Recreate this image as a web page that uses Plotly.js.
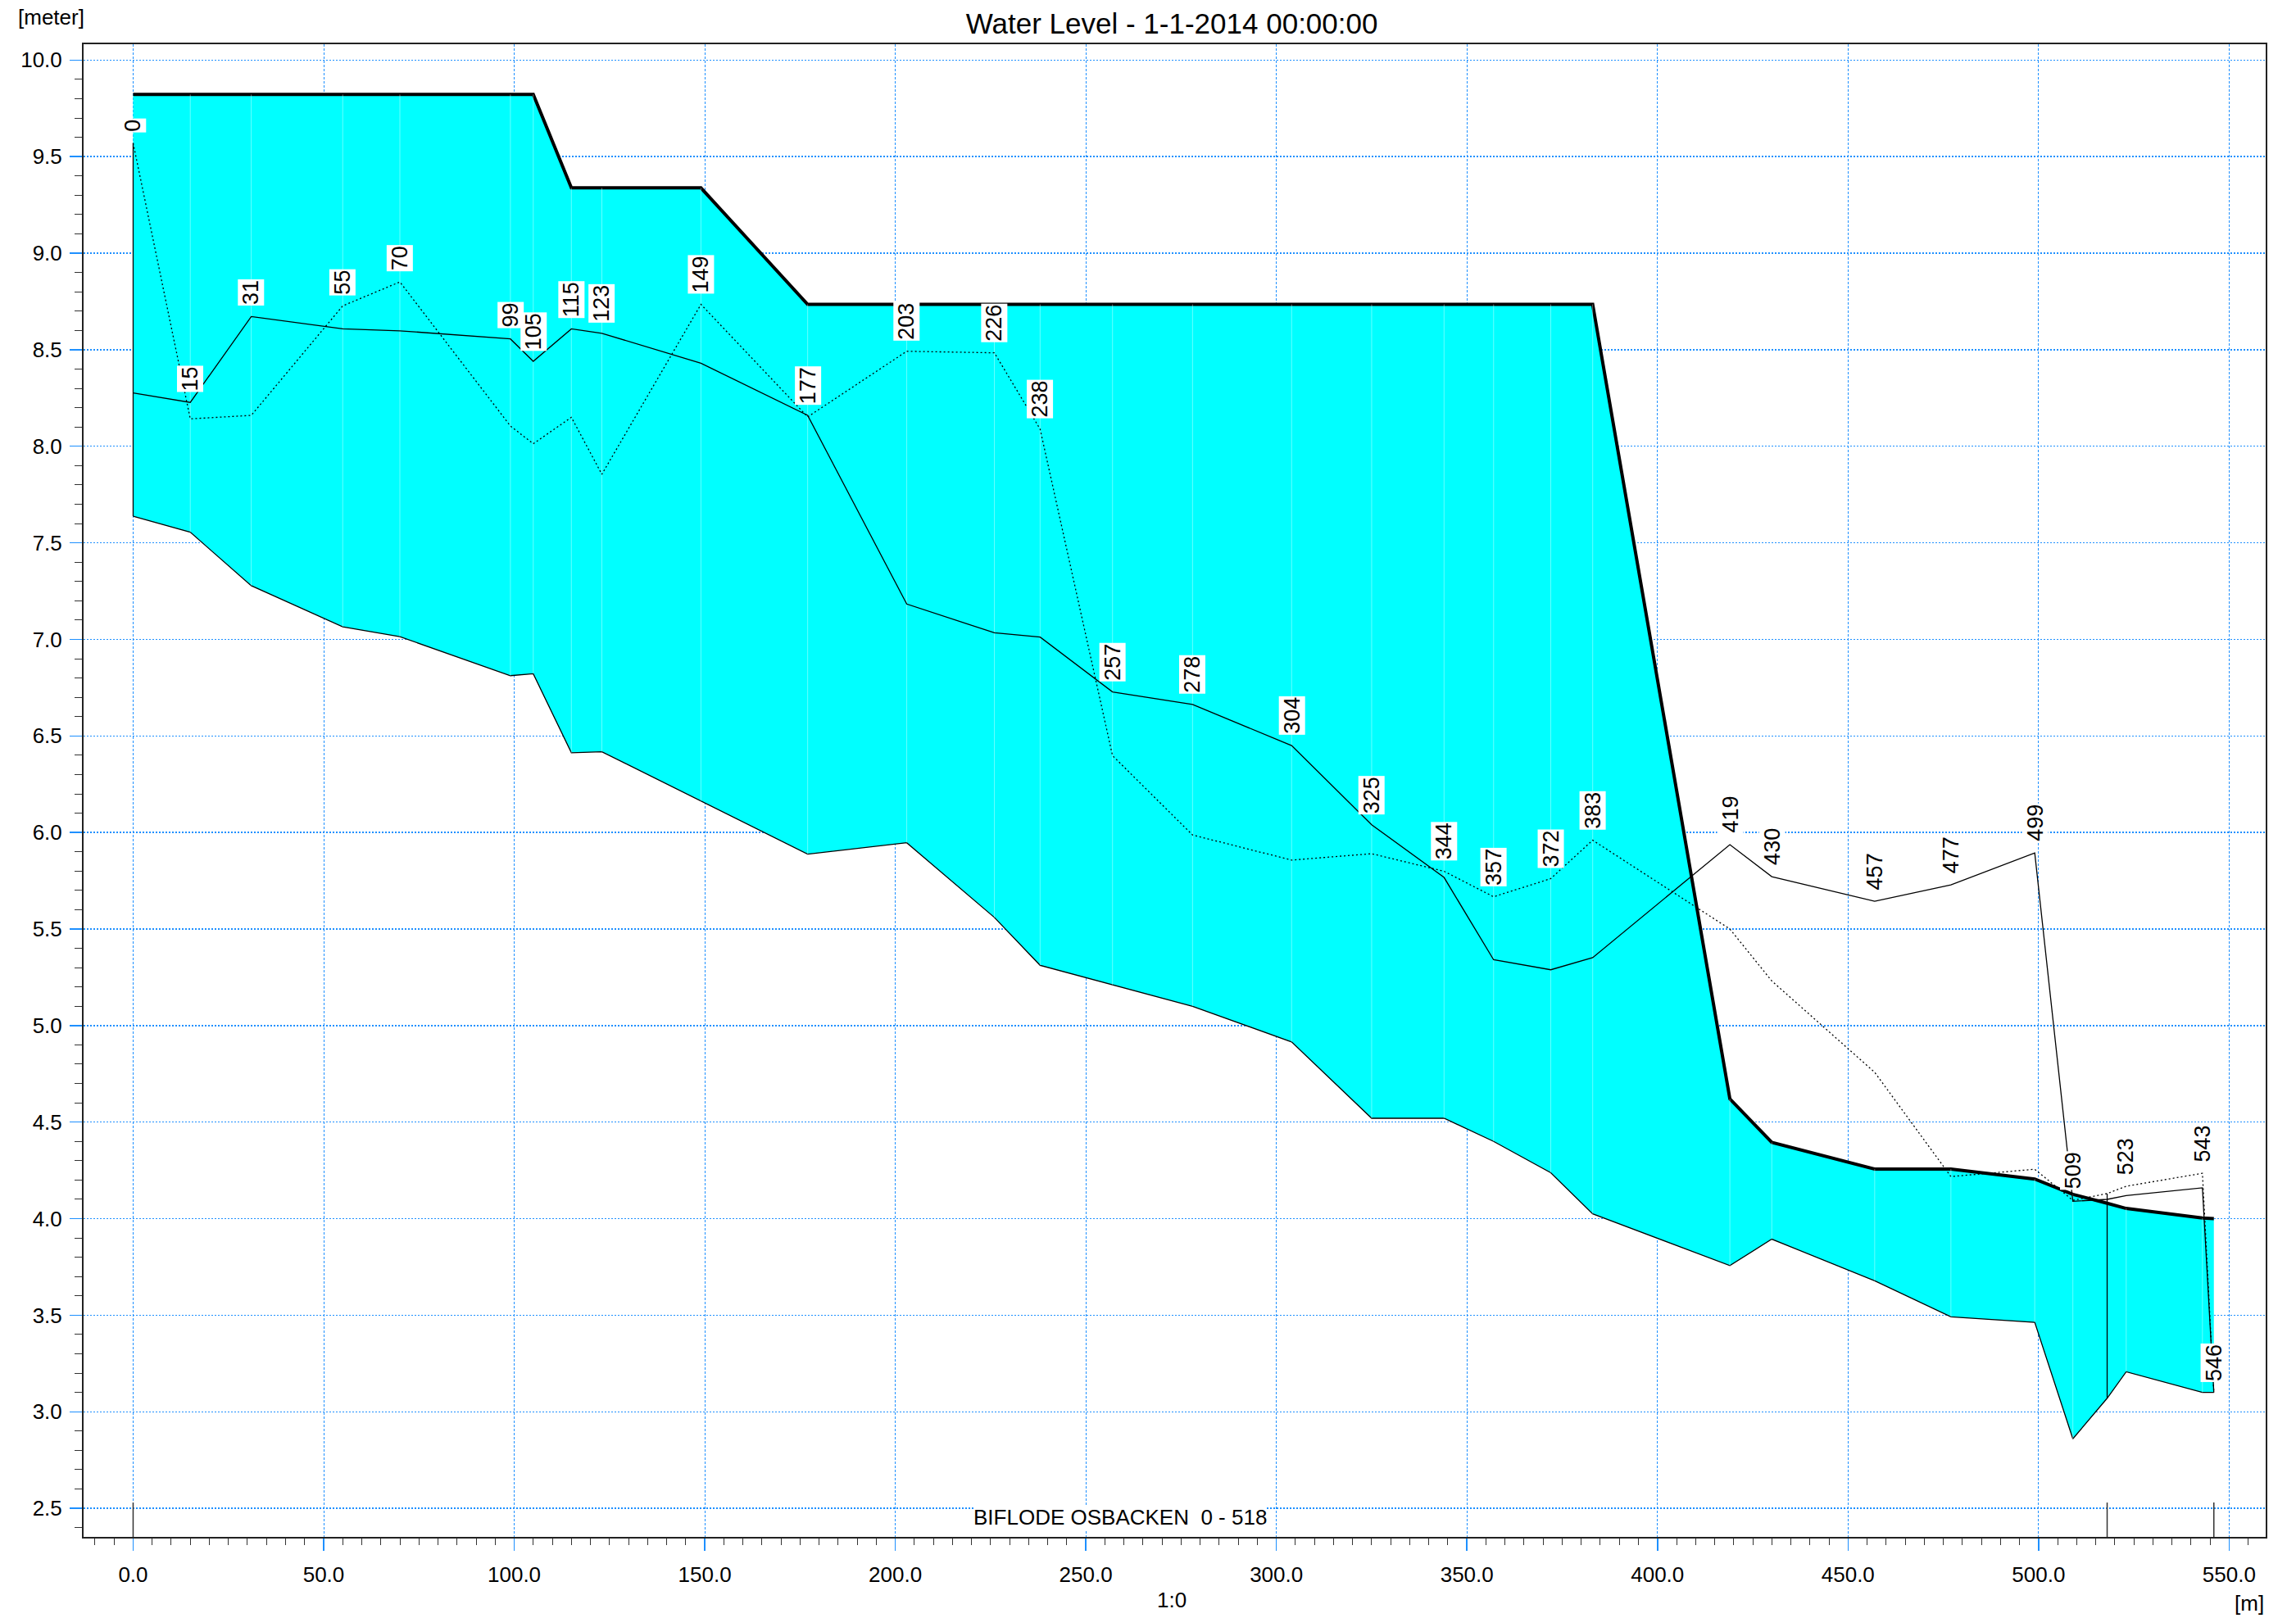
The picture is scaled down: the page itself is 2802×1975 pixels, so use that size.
<!DOCTYPE html>
<html><head><meta charset="utf-8">
<script src="https://cdn.plot.ly/plotly-3.0.1.min.js"></script>
<style>html,body{margin:0;padding:0;background:#fff;} #chart{width:2802px;height:1975px;}</style>
</head><body><div id="chart"></div>
<script>
// ---- data ----
const chainage = [0,15,31,55,70,99,105,115,123,149,177,203,226,238,257,278,304,325,344,357,372,383,419,430,457,477,499,509,518,523,543,546];
const chainageLabels = ['0','15','31','55','70','99','105','115','123','149','177','203','226','238','257','278','304','325','344','357','372','383','419','430','457','477','499','509','','523','543','546'];
const waterLevel = [9.822,9.822,9.822,9.822,9.822,9.822,9.822,9.338,9.338,9.338,8.735,8.735,8.735,8.735,8.735,8.735,8.735,8.735,8.735,8.735,8.735,8.735,4.62,4.395,4.257,4.257,4.205,4.126,4.08,4.053,4.003,4.0];
const bedLevel = [7.638,7.555,7.278,7.065,7.014,6.812,6.822,6.413,6.418,6.163,5.888,5.947,5.56,5.312,5.21,5.10,4.915,4.52,4.52,4.40,4.238,4.025,3.757,3.894,3.678,3.492,3.463,2.86,3.07,3.207,3.10,3.10];
const leftBank = [8.276,8.227,8.672,8.608,8.598,8.556,8.44,8.608,8.585,8.43,8.16,7.183,7.034,7.012,6.728,6.663,6.45,6.04,5.767,5.341,5.289,5.352,5.937,5.771,5.644,5.729,5.894,4.09,4.10,4.12,4.16,3.10];
const rightBank = [9.57,8.142,8.16,8.727,8.851,8.105,8.013,8.15,7.855,8.735,8.152,8.492,8.484,8.089,6.398,5.987,5.857,5.89,5.799,5.667,5.761,5.96,5.50,5.231,4.758,4.218,4.256,4.095,4.13,4.168,4.235,3.10];
const branchEnds = [0,518,546];
const branchName = 'BIFLODE OSBACKEN\u00A0 0 - 518';
const xTickVals = [0,50,100,150,200,250,300,350,400,450,500,550];
const xTickText = ['0.0','50.0','100.0','150.0','200.0','250.0','300.0','350.0','400.0','450.0','500.0','550.0'];
const yTickVals = [2.5,3.0,3.5,4.0,4.5,5.0,5.5,6.0,6.5,7.0,7.5,8.0,8.5,9.0,9.5,10.0];
const yTickText = ['2.5','3.0','3.5','4.0','4.5','5.0','5.5','6.0','6.5','7.0','7.5','8.0','8.5','9.0','9.5','10.0'];
const chartTitle = 'Water Level - 1-1-2014 00:00:00';

// ---- traces ----
const FONT = 'Liberation Sans, Arial, Helvetica, sans-serif';
const n = chainage.length;

const seamX = [], seamY = [];
for (let i = 1; i < n - 1; i++) { seamX.push(chainage[i], chainage[i], null); seamY.push(bedLevel[i], waterLevel[i], null); }

const endX = [], endY = [];
branchEnds.forEach(e => {
  const i = chainage.indexOf(e);
  endX.push(e, e, null);
  endY.push(bedLevel[i], Math.max(leftBank[i], rightBank[i]), null);
});

const traces = [
  {x: chainage, y: bedLevel, mode: 'lines', line: {color: '#000', width: 1.3}, hoverinfo: 'skip', showlegend: false},
  {x: chainage, y: waterLevel, mode: 'lines', fill: 'tonexty', fillcolor: '#00FFFF', line: {color: '#000', width: 4}, hoverinfo: 'skip', showlegend: false},
  {x: seamX, y: seamY, mode: 'lines', line: {color: 'rgba(255,255,255,0.4)', width: 1}, hoverinfo: 'skip', showlegend: false},
  {x: endX, y: endY, mode: 'lines', line: {color: '#000', width: 1.3}, hoverinfo: 'skip', showlegend: false},
  {x: chainage, y: leftBank, mode: 'lines', line: {color: '#000', width: 1.3}, hoverinfo: 'skip', showlegend: false},
  {x: chainage, y: rightBank, mode: 'lines', line: {color: '#000', width: 1.3, dash: '2px,3px'}, hoverinfo: 'skip', showlegend: false}
];

// ---- annotations ----
const annotations = [];
chainage.forEach((c, i) => {
  if (!chainageLabels[i]) return;
  annotations.push({
    x: c, y: Math.max(leftBank[i], rightBank[i]), xref: 'x', yref: 'y',
    text: chainageLabels[i], showarrow: false, textangle: -90,
    xanchor: 'center', yanchor: 'bottom', yshift: 13,
    bgcolor: '#fff', borderpad: 1, borderwidth: 0,
    font: {family: FONT, size: 27, color: '#000'}
  });
});
annotations.push({x: 259, y: 2.455, xref: 'x', yref: 'y', text: branchName, showarrow: false,
  xanchor: 'center', yanchor: 'middle', bgcolor: '#fff', borderpad: 0, borderwidth: 0,
  font: {family: FONT, size: 26, color: '#000'}});
annotations.push({x: -0.0308, y: 1.0181, xref: 'paper', yref: 'paper', text: '[meter]', showarrow: false,
  xanchor: 'left', yanchor: 'middle', font: {family: FONT, size: 26, color: '#000'}});
annotations.push({x: 0.4987, y: -0.0423, xref: 'paper', yref: 'paper', text: '1:0', showarrow: false,
  xanchor: 'center', yanchor: 'middle', font: {family: FONT, size: 26, color: '#000'}});
annotations.push({x: 1.0, y: -0.0445, xref: 'paper', yref: 'paper', text: '[m]', showarrow: false,
  xanchor: 'right', yanchor: 'middle', font: {family: FONT, size: 26, color: '#000'}});

const shapes = branchEnds.map(e => ({type: 'line', xref: 'x', yref: 'paper', x0: e, x1: e, y0: 0, y1: 0.023,
  line: {color: '#333', width: 1.5}, layer: 'above'}));

const GRID = '#1E90FF';
const layout = {
  width: 2802, height: 1975,
  margin: {l: 102, r: 37, t: 54, b: 99, pad: 0},
  paper_bgcolor: '#fff', plot_bgcolor: '#fff',
  font: {family: FONT, size: 26, color: '#000'},
  title: {text: chartTitle, font: {family: FONT, size: 35, color: '#000'}, x: 0.5104, xanchor: 'center', y: 0.9853, yref: 'container', yanchor: 'middle'},
  xaxis: {
    range: [-13.0, 559.6], tickvals: xTickVals, ticktext: xTickText,
    showgrid: true, gridcolor: GRID, gridwidth: 1, griddash: '3px,2px',
    zeroline: false, showline: true, mirror: true, linecolor: '#222', linewidth: 2,
    ticks: 'outside', ticklen: 15, tickwidth: 1.5, tickcolor: GRID,
    ticklabelstandoff: 7,
    tickfont: {family: FONT, size: 26, color: '#000'},
    minor: {dtick: 5, ticks: 'outside', ticklen: 8, tickwidth: 1, tickcolor: '#333', showgrid: false}
  },
  yaxis: {
    range: [2.352, 10.082], tickvals: yTickVals, ticktext: yTickText,
    showgrid: true, gridcolor: GRID, gridwidth: 1.5, griddash: '2px,2px',
    zeroline: false, showline: true, mirror: true, linecolor: '#222', linewidth: 2,
    ticks: 'outside', ticklen: 15, tickwidth: 1.5, tickcolor: GRID,
    ticklabelstandoff: 4,
    tickfont: {family: FONT, size: 26, color: '#000'},
    minor: {dtick: 0.1, ticks: 'outside', ticklen: 9, tickwidth: 1, tickcolor: '#333', showgrid: false}
  },
  annotations: annotations,
  shapes: shapes,
  showlegend: false
};

Plotly.newPlot('chart', traces, layout, {staticPlot: true, displayModeBar: false});
</script>
</body></html>
